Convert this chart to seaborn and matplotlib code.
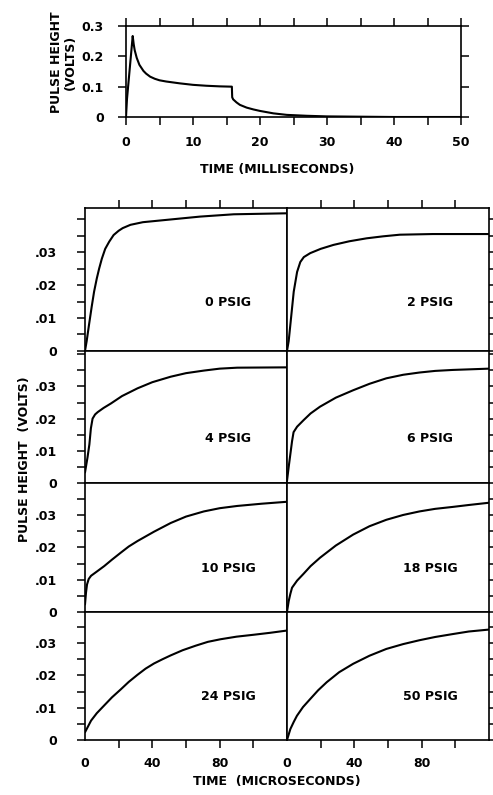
import numpy as np
import pandas as pd
import matplotlib
matplotlib.use("Agg")
import matplotlib.pyplot as plt
from matplotlib.ticker import FixedLocator, MultipleLocator
import seaborn as sns

# top panel: full pulse (milliseconds, volts)
ms_time = [0, 0.15, 1.0, 1.15, 1.3, 1.6, 2.0, 2.6, 3.0, 3.6, 4.3, 5, 6, 8, 10, 12,
           14, 15.8, 15.85, 16.0, 16.5, 17, 18, 19, 20, 22, 24, 27, 30, 35, 40, 45, 50]
ms_volts = [0, 0.06, 0.267, 0.24, 0.22, 0.195, 0.172, 0.152, 0.143, 0.133, 0.126,
            0.121, 0.117, 0.111, 0.106, 0.103, 0.101, 0.1, 0.065, 0.058, 0.048,
            0.04, 0.031, 0.025, 0.02, 0.012, 0.007, 0.004, 0.002, 0.001, 0.0, 0.0, 0.0]

# lower panels: rise of pulse (microseconds, volts) per pressure
pressures = ["0 PSIG", "2 PSIG", "4 PSIG", "6 PSIG",
             "10 PSIG", "18 PSIG", "24 PSIG", "50 PSIG"]

us_0 = [0, 1, 2.4, 4, 5.4, 7, 8.4, 10, 12, 14.4, 17, 20, 22.4, 27, 34.4, 48.4, 68.4, 88.4, 120]
v_0 = [0, 0.003, 0.008, 0.0135, 0.018, 0.022, 0.025, 0.028, 0.031, 0.0332, 0.0352,
       0.0365, 0.0373, 0.0383, 0.0391, 0.0398, 0.0408, 0.0415, 0.0418]

us_2 = [0, 1, 4, 6, 7.9, 10, 13.8, 20, 27.6, 37, 47.3, 57, 67, 86.6, 120]
v_2 = [0, 0.003, 0.018, 0.024, 0.027, 0.0285, 0.0297, 0.031, 0.0322, 0.0333, 0.0342,
       0.0348, 0.0353, 0.0355, 0.0355]

us_4 = [0, 1.5, 2.6, 3.5, 4.5, 6, 7.5, 11, 15.4, 22, 31.2, 40, 50.9, 60, 70.6, 80, 90.4, 120]
v_4 = [0.0033, 0.008, 0.012, 0.017, 0.020, 0.0213, 0.022, 0.0233, 0.0247, 0.027, 0.0294,
       0.0313, 0.033, 0.0341, 0.0349, 0.0355, 0.0358, 0.0359]

us_6 = [0, 1, 2, 3, 3.9, 6, 9.8, 14, 19.6, 29, 39.3, 49, 59, 69, 78.7, 88, 98.4, 120]
v_6 = [0.0007, 0.005, 0.009, 0.013, 0.0158, 0.0175, 0.0195, 0.0216, 0.0237, 0.0265,
       0.0288, 0.0308, 0.0325, 0.0336, 0.0343, 0.0348, 0.0351, 0.0355]

us_10 = [0, 0.6, 1.2, 2.2, 3.6, 7, 11.4, 16, 21.3, 26, 31.2, 41, 50.9, 60, 70.6, 80,
         90.4, 105, 120]
v_10 = [0.0023, 0.006, 0.0085, 0.0102, 0.0112, 0.0125, 0.0142, 0.0162, 0.0184, 0.0203,
        0.022, 0.0249, 0.0276, 0.0296, 0.0312, 0.0322, 0.0329, 0.0336, 0.0342]

us_18 = [0, 1, 2, 3, 6, 9.8, 14, 19.6, 29, 39.3, 49, 59, 69, 78.7, 88, 98.4, 108, 120]
v_18 = [0, 0.0033, 0.0056, 0.0075, 0.0097, 0.0118, 0.0142, 0.0168, 0.0206, 0.024,
        0.0266, 0.0286, 0.0301, 0.0312, 0.032, 0.0326, 0.0332, 0.0339]

us_24 = [0, 3.6, 7, 11.4, 16, 21.3, 26, 31.2, 36, 41, 46, 50.9, 58, 65.7, 73, 80.5,
         90, 100.3, 110, 120]
v_24 = [0.0024, 0.006, 0.0083, 0.0107, 0.0132, 0.0157, 0.018, 0.0202, 0.0221, 0.0237,
        0.025, 0.0262, 0.0278, 0.0292, 0.0304, 0.0312, 0.032, 0.0326, 0.0332, 0.0339]

us_50 = [0, 2, 4, 5.9, 9.5, 13.8, 18.5, 23.6, 31, 39.3, 49, 59, 69, 78.7, 88, 98.4, 108, 120]
v_50 = [0, 0.0034, 0.0056, 0.0075, 0.0102, 0.0127, 0.0154, 0.0179, 0.021, 0.0236,
        0.0261, 0.0282, 0.0297, 0.0309, 0.0319, 0.0328, 0.0336, 0.0342]

curves = [(us_0, v_0), (us_2, v_2), (us_4, v_4), (us_6, v_6),
          (us_10, v_10), (us_18, v_18), (us_24, v_24), (us_50, v_50)]
row_ymax = [0.0435, 0.041, 0.040, 0.0397]

sns.set_theme(style="ticks")
plt.rcParams["font.family"] = ["DejaVu Sans"]
plt.rcParams["font.weight"] = "bold"
plt.rcParams["axes.linewidth"] = 1.2
plt.rcParams["text.color"] = "black"
plt.rcParams["axes.labelcolor"] = "black"
plt.rcParams["xtick.color"] = "black"
plt.rcParams["ytick.color"] = "black"

W, H = 493, 795
fig = plt.figure(figsize=(W / 100, H / 100), dpi=100)
fig.patch.set_facecolor("white")

tick_font = dict(labelsize=9, width=1.1, direction="out", colors="black")

# ---- top panel ----
ax_top = fig.add_axes([126 / W, 1 - 117 / H, 335 / W, 91 / H])
sns.lineplot(x=ms_time, y=ms_volts, ax=ax_top, color="black", lw=1.5)
ax_top.set_xlim(0, 50)
ax_top.set_ylim(0, 0.3)
ax_top.set_xticks([0, 10, 20, 30, 40, 50])
ax_top.xaxis.set_minor_locator(MultipleLocator(5))
ax_top.set_yticks([0, 0.1, 0.2, 0.3], labels=["0", "0.1", "0.2", "0.3"])
ax_top.tick_params(axis="x", which="both", top=True, bottom=True, length=6, pad=8, **tick_font)
ax_top.tick_params(axis="y", which="both", left=True, right=True, length=6, pad=10, **tick_font)
for s in ax_top.spines.values():
    s.set_color("black")
for lab in ax_top.get_xticklabels() + ax_top.get_yticklabels():
    lab.set_fontweight("bold")

fig.text(63 / W, 1 - 62 / H, "PULSE HEIGHT\n(VOLTS)", rotation=90, ha="center",
         va="center", fontsize=9, fontweight="bold", multialignment="center", linespacing=1.1)
fig.text(277 / W, 1 - 170 / H, "TIME (MILLISECONDS)", ha="center", va="center",
         fontsize=9, fontweight="bold")

# ---- lower grid ----
gs = fig.add_gridspec(4, 2, left=85 / W, right=489 / W, top=1 - 207.7 / H,
                      bottom=1 - 740 / H, hspace=0, wspace=0,
                      height_ratios=[143, 132, 128.5, 128])

for i, (name, (xs, ys)) in enumerate(zip(pressures, curves)):
    r, c = divmod(i, 2)
    ax = fig.add_subplot(gs[r, c])
    df = pd.DataFrame({"t": xs, "v": ys})
    sns.lineplot(data=df, x="t", y="v", ax=ax, color="black", lw=1.5)
    ax.set_xlim(0, 120)
    ax.set_ylim(0, row_ymax[r])
    ax.set_xlabel("")
    ax.set_ylabel("")
    for s in ax.spines.values():
        s.set_color("black")

    minor_y = [k * 0.005 for k in range(1, 9) if k * 0.005 < row_ymax[r]]
    ax.yaxis.set_major_locator(FixedLocator([0, 0.01, 0.02, 0.03]))
    ax.yaxis.set_minor_locator(FixedLocator(minor_y))
    ax.set_yticklabels(["0", ".01", ".02", ".03"])
    if c == 0:
        ax.tick_params(axis="y", which="both", left=True, right=False, labelleft=True,
                       length=6, pad=14, **tick_font)
    else:
        ax.tick_params(axis="y", which="both", left=False, right=True, labelleft=False,
                       length=6, **tick_font)

    ax.set_xticks([20, 40, 60, 80, 100], labels=["", "40", "", "80", ""])
    ax.set_xticks([0], labels=["0"], minor=True)
    if r == 0:
        ax.tick_params(axis="x", which="major", top=True, bottom=False, labelbottom=False,
                       length=6, **tick_font)
        ax.tick_params(axis="x", which="minor", top=False, bottom=False, labelbottom=False)
    elif r == 3:
        ax.tick_params(axis="x", which="major", top=False, bottom=True, labelbottom=True,
                       length=6, pad=6, **tick_font)
        ax.tick_params(axis="x", which="minor", top=False, bottom=False, labelbottom=True,
                       length=0, pad=12, labelsize=9, colors="black")
    else:
        ax.tick_params(axis="x", which="both", top=False, bottom=False, labelbottom=False)
    for lab in ax.get_xticklabels(which="both") + ax.get_yticklabels():
        lab.set_fontweight("bold")

    ax.text(0.71, 0.34, name, transform=ax.transAxes, ha="center", va="center",
            fontsize=9, fontweight="bold", color="black")

fig.text(25 / W, 1 - 459 / H, "PULSE HEIGHT  (VOLTS)", rotation=90, ha="center",
         va="center", fontsize=9, fontweight="bold")
fig.text(277 / W, 1 - 781.7 / H, "TIME  (MICROSECONDS)", ha="center", va="center",
         fontsize=9, fontweight="bold")

fig.savefig("out.png", dpi=100, facecolor="white")
